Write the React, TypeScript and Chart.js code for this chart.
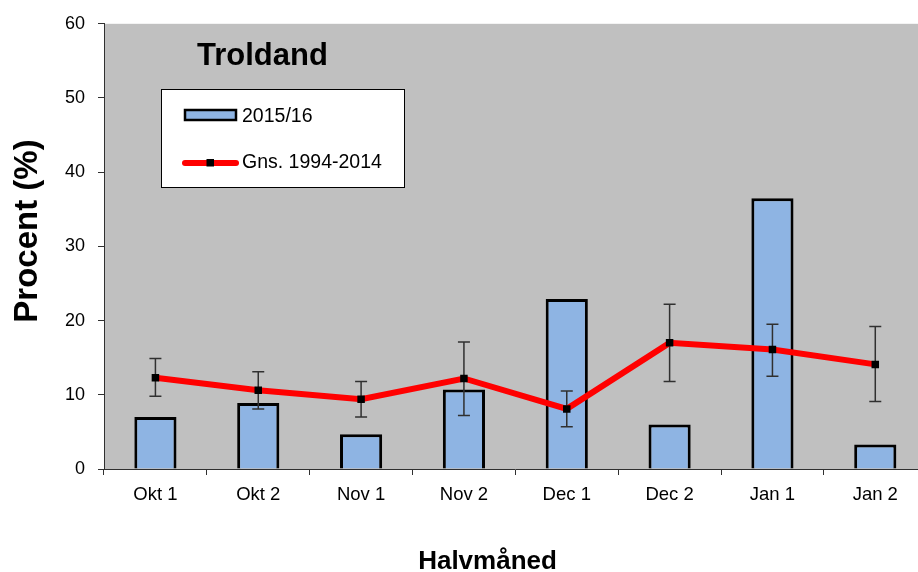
import React, { useEffect, useRef } from "react";
import { Chart, registerables } from "chart.js";

Chart.register(...registerables);

const categories = ["Okt 1", "Okt 2", "Nov 1", "Nov 2", "Dec 1", "Dec 2", "Jan 1", "Jan 2"];
const season = [7.0, 8.9, 4.7, 10.7, 22.9, 6.0, 36.5, 3.3];
const average = [12.3, 10.6, 9.4, 12.2, 8.1, 17.0, 16.1, 14.1];
const errHigh = [14.9, 13.1, 11.8, 17.1, 10.5, 22.2, 19.5, 19.2];
const errLow = [9.8, 8.1, 7.0, 7.2, 5.7, 11.8, 12.5, 9.1];
const yTicks = [0, 10, 20, 30, 40, 50, 60];

const seasonLabel = "2015/16";
const averageLabel = "Gns. 1994-2014";
const chartTitle = "Troldand";
const yTitle = "Procent (%)";
const xTitle = "Halvmåned";

const FONT = '"Liberation Sans", Arial, sans-serif';
const BAR_FILL = "#8EB4E3";
const PLOT_BG = "#C0C0C0";

const customPlugin = {
  id: "custom",
  beforeDraw(chart: any) {
    const { ctx, chartArea } = chart;
    ctx.save();
    ctx.fillStyle = "#ffffff";
    ctx.fillRect(0, 0, chart.width, chart.height);
    ctx.fillStyle = PLOT_BG;
    ctx.fillRect(chartArea.left, chartArea.top, chartArea.right - chartArea.left, chartArea.bottom - chartArea.top);
    ctx.restore();
  },
  afterDatasetDraw(chart: any, args: any) {
    if (args.meta.type !== "bar") return;
    const { ctx } = chart;
    const xs = chart.scales.x;
    const ys = chart.scales.y;
    ctx.save();
    ctx.strokeStyle = "#303030";
    ctx.lineWidth = 1.5;
    for (let i = 0; i < categories.length; i++) {
      const x = xs.getPixelForValue(i);
      const y1 = ys.getPixelForValue(errHigh[i]);
      const y2 = ys.getPixelForValue(errLow[i]);
      ctx.beginPath();
      ctx.moveTo(x, y1);
      ctx.lineTo(x, y2);
      ctx.moveTo(x - 6, y1);
      ctx.lineTo(x + 6, y1);
      ctx.moveTo(x - 6, y2);
      ctx.lineTo(x + 6, y2);
      ctx.stroke();
    }
    ctx.restore();
  },
  afterDraw(chart: any) {
    const { ctx } = chart;
    ctx.save();
    ctx.fillStyle = "#000";
    ctx.font = `bold 31px ${FONT}`;
    ctx.textAlign = "left";
    ctx.textBaseline = "alphabetic";
    ctx.fillText(chartTitle, 197, 65);

    ctx.fillStyle = "#ffffff";
    ctx.fillRect(161, 89, 243, 98);
    ctx.strokeStyle = "#000";
    ctx.lineWidth = 1;
    ctx.strokeRect(161.5, 89.5, 243, 98);

    ctx.fillStyle = BAR_FILL;
    ctx.fillRect(185, 110, 51, 10);
    ctx.lineWidth = 2.5;
    ctx.strokeStyle = "#000";
    ctx.strokeRect(185, 110, 51, 10);

    ctx.strokeStyle = "#FF0000";
    ctx.lineWidth = 6;
    ctx.lineCap = "round";
    ctx.beginPath();
    ctx.moveTo(185, 163);
    ctx.lineTo(236, 163);
    ctx.stroke();
    ctx.fillStyle = "#000";
    ctx.fillRect(206.5, 159, 7.5, 7.5);

    ctx.fillStyle = "#000";
    ctx.font = `19.5px ${FONT}`;
    ctx.fillText(seasonLabel, 242, 122);
    ctx.fillText(averageLabel, 242, 168);

    ctx.save();
    ctx.translate(37, 231);
    ctx.rotate(-Math.PI / 2);
    ctx.font = `bold 33px ${FONT}`;
    ctx.textAlign = "center";
    ctx.textBaseline = "alphabetic";
    ctx.fillText(yTitle, 0, 0);
    ctx.restore();

    ctx.font = `bold 26px ${FONT}`;
    ctx.textAlign = "center";
    ctx.textBaseline = "alphabetic";
    ctx.fillText(xTitle, 487.5, 569);
    ctx.restore();
  },
};

export default function App() {
  const ref = useRef<HTMLCanvasElement | null>(null);

  useEffect(() => {
    if (!ref.current) return;
    const chart = new Chart(ref.current, {
      type: "bar",
      data: {
        labels: categories,
        datasets: [
          {
            type: "line",
            label: averageLabel,
            data: average,
            borderColor: "#FF0000",
            borderWidth: 6,
            pointStyle: "rect",
            pointRadius: 5.3,
            pointBackgroundColor: "#000",
            pointBorderColor: "#000",
            pointBorderWidth: 0,
            fill: false,
            tension: 0,
            order: 0,
          } as any,
          {
            type: "bar",
            label: seasonLabel,
            data: season,
            backgroundColor: BAR_FILL,
            borderColor: "#000",
            borderWidth: 3,
            barPercentage: 0.41,
            categoryPercentage: 1,
            order: 1,
          } as any,
        ],
      },
      options: {
        responsive: false,
        animation: false,
        devicePixelRatio: 1,
        layout: { padding: { top: 22, right: 0, left: 0, bottom: 0 } },
        plugins: {
          legend: { display: false },
          title: { display: false },
          tooltip: { enabled: false },
        },
        scales: {
          x: {
            offset: true,
            grid: {
              offset: true,
              drawOnChartArea: false,
              drawTicks: true,
              tickLength: 6,
              color: "#303030",
            },
            border: { display: true, color: "#303030", width: 1 },
            ticks: {
              color: "#000",
              font: { family: FONT, size: 18.5 },
              padding: 9,
              maxRotation: 0,
              autoSkip: false,
            },
            afterFit(scale: any) {
              scale.height = 103;
            },
          },
          y: {
            min: 0,
            max: 60,
            afterBuildTicks(scale: any) {
              scale.ticks = yTicks.map((v) => ({ value: v }));
            },
            grid: {
              drawOnChartArea: false,
              drawTicks: true,
              tickLength: 6,
              color: "#303030",
            },
            border: { display: true, color: "#303030", width: 1 },
            ticks: {
              color: "#000",
              font: { family: FONT, size: 18 },
              padding: 13,
            },
            afterFit(scale: any) {
              scale.width = 104;
            },
          },
        },
      },
      plugins: [customPlugin],
    });
    return () => chart.destroy();
  }, []);

  return (
    <div style={{ position: "fixed", left: 0, top: 0, width: 918, height: 572, overflow: "hidden", background: "#fff" }}>
      <canvas ref={ref} width={932} height={572} style={{ display: "block" }} />
    </div>
  );
}
